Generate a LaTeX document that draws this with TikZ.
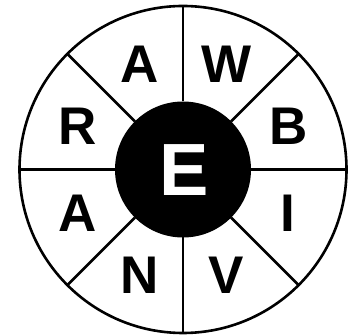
\documentclass[tikz,border=0pt]{standalone}
\usepackage{fontspec}
\setmainfont{Liberation Sans}
\usetikzlibrary{calc}
\begin{document}
\begin{tikzpicture}[x=1pt,y=-1pt,
  ln/.style={line width=2.6pt,black},
  let/.style={font=\fontsize{53}{53}\selectfont\bfseries,inner sep=0pt,anchor=center},
  ]
\useasboundingbox (0,0) rectangle (357,336);
\coordinate (c) at (183,169.5);
\node[circle,draw,ln,minimum size=327pt,inner sep=0pt] (outer) at (c) {};
\foreach \a in {0,45,...,315}{
  \draw[ln] (c) ++(\a:68) -- ++(\a:95.5);
}
\node[circle,fill=black,minimum size=136pt,inner sep=0pt] (inner) at (c) {};
\node[let,text=white,font=\fontsize{74}{74}\selectfont\bfseries] (e) at (184,170) {E};
\foreach \lab/\ang [count=\i] in {W/-67.5,B/-22.5,I/22.5,V/67.5,N/112.5,A/157.5,R/-157.5,A/-112.5}{
  \node[let] (l\i) at ($(c)+(\ang:114)$) {\lab};
}
\end{tikzpicture}
\end{document}
